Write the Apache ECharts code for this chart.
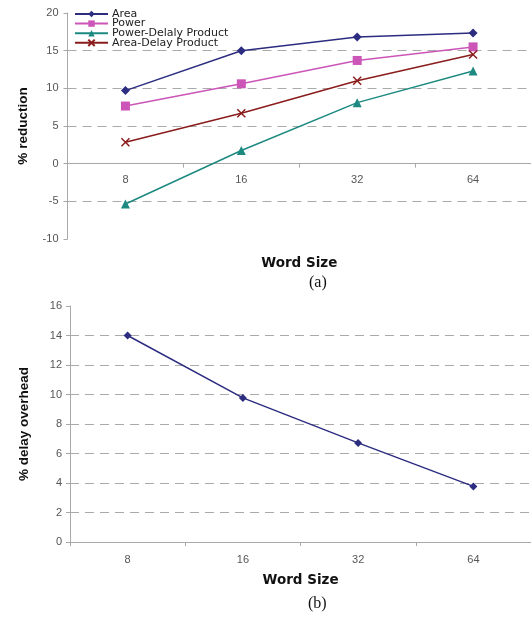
<!DOCTYPE html>
<html>
<head>
<meta charset="utf-8">
<script src="https://cdn.jsdelivr.net/npm/echarts@6/dist/echarts.min.js"></script>
<style>
html,body{margin:0;padding:0;background:#fff;}
#c{width:531px;height:617px;}
</style>
</head>
<body>
<div id="c"></div>
<script>
const wordSizes = ['8', '16', '32', '64'];
const areaRed = [9.7, 15.0, 16.8, 17.35];
const powerRed = [7.65, 10.6, 13.7, 15.5];
const powerDelayRed = [-5.35, 1.75, 8.1, 12.3];
const areaDelayRed = [2.85, 6.7, 11.0, 14.5];
const delayOverhead = [14.0, 9.77, 6.72, 3.77];
const topTicks = {min: -10, max: 20, interval: 5};
const bottomTicks = {min: 0, max: 16, interval: 2};

const chart = echarts.init(document.getElementById('c'));
const labelStyle = {color: '#555', fontSize: 11, fontFamily: 'Liberation Sans, Arial, sans-serif'};
const xNameStyle = {color: '#111', fontSize: 13.5, fontWeight: 'bold', fontFamily: 'DejaVu Sans, sans-serif'};
const yNameStyle = {color: '#111', fontSize: 13.5, fontWeight: 'bold', fontFamily: 'Liberation Sans, Arial, sans-serif'};
const axisGray = '#a8a8a8';
const split = {show: true, showMinLine: false, showMaxLine: false, lineStyle: {color: '#aaaaaa', type: [9, 6], width: 1}};

function xAx(gridIndex, gap, margin) {
  return {
    type: 'category', gridIndex: gridIndex, data: wordSizes, boundaryGap: true,
    axisLine: {show: true, onZero: true, lineStyle: {color: axisGray, width: 1}},
    axisTick: {show: true, length: 4, lineStyle: {color: axisGray}},
    axisLabel: Object.assign({margin: margin}, labelStyle),
    name: 'Word Size', nameLocation: 'middle', nameGap: gap, nameMoveOverlap: false,
    nameTextStyle: xNameStyle, splitLine: {show: false}
  };
}
function yAx(gridIndex, ticks, name, margin, gap) {
  return {
    type: 'value', gridIndex: gridIndex, min: ticks.min, max: ticks.max, interval: ticks.interval,
    axisLine: {show: true, lineStyle: {color: axisGray, width: 1}},
    axisTick: {show: true, length: 4, lineStyle: {color: axisGray}},
    axisLabel: Object.assign({margin: margin}, labelStyle),
    splitLine: split,
    name: name, nameLocation: 'middle', nameGap: gap, nameRotate: 90, nameMoveOverlap: false,
    nameTextStyle: yNameStyle
  };
}
function ser(name, data, color, symbol, size, xi, extra) {
  return Object.assign({
    name: name, type: 'line', data: data, xAxisIndex: xi, yAxisIndex: xi,
    symbol: symbol, symbolSize: size, showSymbol: true,
    lineStyle: {color: color, width: 1.5},
    itemStyle: {color: color},
    emphasis: {disabled: true}, animation: false, z: 3
  }, extra || {});
}

chart.setOption({
  animation: false,
  backgroundColor: '#fff',
  grid: [
    {left: 67.5, right: -5, top: 13, bottom: 378, containLabel: false},
    {left: 70, right: -2, top: 306, bottom: 75, containLabel: false}
  ],
  legend: {
    data: ['Area', 'Power', 'Power-Delaly Product', 'Area-Delay Product'],
    orient: 'vertical', left: 74, top: 8.5, padding: 0, itemWidth: 33, itemHeight: 8, itemGap: -1.4,
    textStyle: {color: '#222', fontSize: 11, lineHeight: 9.7, fontFamily: 'DejaVu Sans, sans-serif', padding: [0, 0, 0, -1]},
    selectedMode: false
  },
  graphic: [
    {type: 'text', left: 309, top: 275, style: {text: '(a)', font: '16px "Liberation Serif", serif', fill: '#111'}},
    {type: 'text', left: 308, top: 596, style: {text: '(b)', font: '16px "Liberation Serif", serif', fill: '#111'}}
  ],
  xAxis: [xAx(0, 17, -65), xAx(1, 31, 12)],
  yAxis: [yAx(0, topTicks, '% reduction', 9, 37), yAx(1, bottomTicks, '% delay overhead', 8, 39)],
  series: [
    ser('Area', areaRed, '#2c2c80', 'diamond', 9, 0),
    ser('Power', powerRed, '#cc55b8', 'rect', 9, 0),
    ser('Power-Delaly Product', powerDelayRed, '#1c8a80', 'triangle', 9, 0),
    ser('Area-Delay Product', areaDelayRed, '#8b1c1c', 'path://M0,0 L10,10 M10,0 L0,10', 8, 0,
      {itemStyle: {color: '#8b1c1c', borderColor: '#8b1c1c', borderWidth: 1.5}}),
    ser('Delay Overhead', delayOverhead, '#2c2c80', 'diamond', 8, 1)
  ]
});
</script>
</body>
</html>
